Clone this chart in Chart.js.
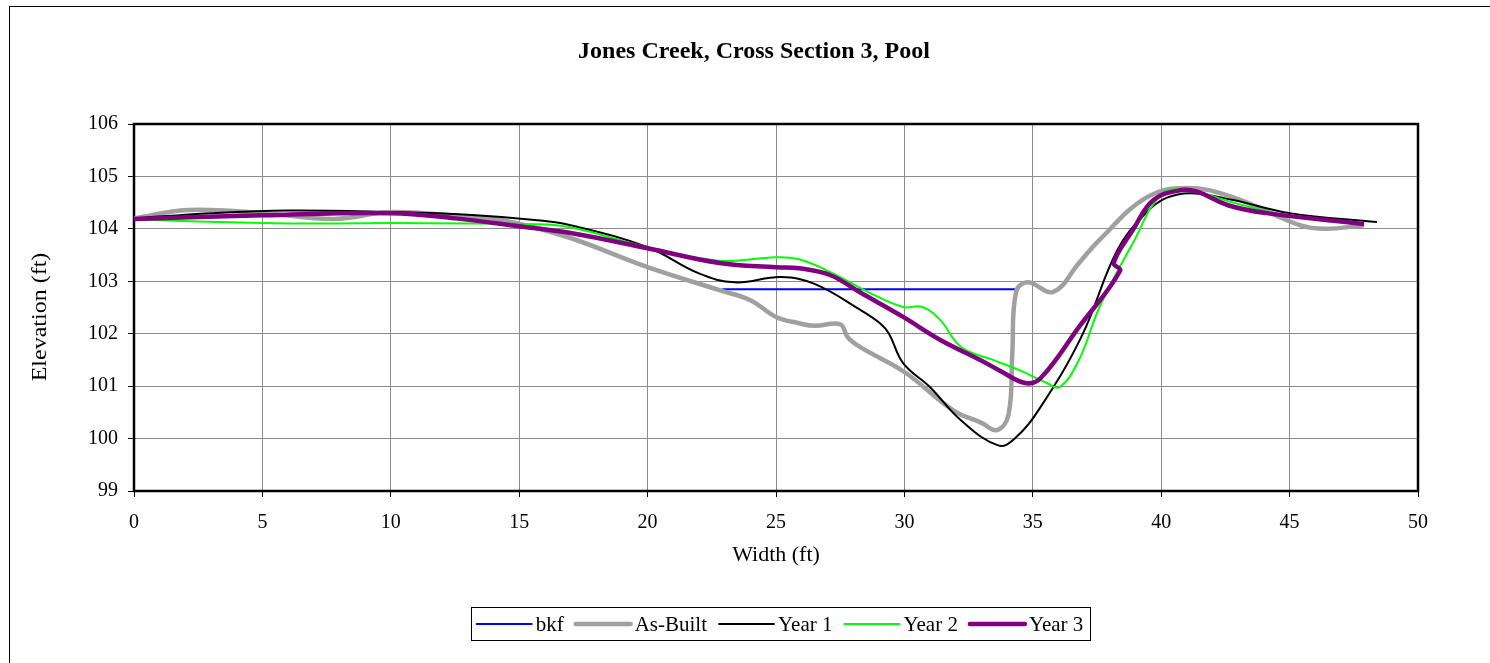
<!DOCTYPE html>
<html>
<head>
<meta charset="utf-8">
<title>Jones Creek, Cross Section 3, Pool</title>
<script src="https://cdn.jsdelivr.net/npm/chart.js@4/dist/chart.umd.min.js"></script>
<style>
  html, body { margin: 0; padding: 0; background: #fff; }
  #wrap { width: 1490px; height: 663px; }
</style>
</head>
<body>
<div id="wrap"><canvas id="xsChart" width="1490" height="663"></canvas></div>
<script>
// Survey data: station (ft) and elevation (ft)
var bkfX = [22.9, 34.4];
var bkfY = [102.85, 102.85];

var asBuiltX = [0, 2.1, 5, 7.8, 10, 12.5, 14.3, 16.9, 20, 22.8, 24, 25, 25.9, 26.5, 27.5, 27.8, 28.3, 30, 31.9, 33.0, 33.6, 34.05, 34.2, 34.35, 34.8, 35.8, 36.8, 37.6, 39.4, 41, 42.8, 45.4, 46.4, 47.9];
var asBuiltY = [104.2, 104.36, 104.3, 104.19, 104.32, 104.25, 104.17, 103.84, 103.27, 102.83, 102.64, 102.32, 102.2, 102.15, 102.18, 101.93, 101.74, 101.27, 100.54, 100.3, 100.16, 100.45, 101.6, 102.8, 102.98, 102.8, 103.35, 103.79, 104.59, 104.78, 104.6, 104.07, 104.0, 104.07];

var year1X = [0, 3, 6, 10, 13, 15.6, 17, 20, 22, 23.4, 25.2, 26.5, 28.3, 29.05, 29.4, 29.95, 31, 32.2, 33.65, 34.3, 35.3, 36.9, 38.3, 39.4, 40.2, 41.2, 42.8, 45, 48.4];
var year1Y = [104.2, 104.3, 104.35, 104.32, 104.27, 104.17, 104.07, 103.65, 103.15, 102.98, 103.08, 102.95, 102.45, 102.2, 102.0, 101.44, 100.98, 100.35, 99.87, 100.0, 100.6, 101.95, 103.6, 104.3, 104.59, 104.68, 104.55, 104.3, 104.13];

var year2X = [0, 5, 7.5, 10, 15.6, 17, 20, 22.8, 25, 25.9, 27.1, 28.65, 29.95, 30.7, 31.4, 32.2, 33.45, 34.5, 35.55, 36.05, 36.8, 37.6, 38.9, 40, 41, 42.8, 45, 47.9];
var year2Y = [104.18, 104.11, 104.1, 104.11, 104.09, 104.03, 103.65, 103.39, 103.46, 103.42, 103.18, 102.78, 102.51, 102.51, 102.26, 101.75, 101.5, 101.3, 101.06, 100.98, 101.5, 102.51, 103.73, 104.65, 104.75, 104.5, 104.25, 104.11];

var year3X = [0, 5, 10, 12.5, 15, 17, 20, 22.8, 25, 25.9, 27.1, 28.3, 29.95, 31.4, 32.95, 33.7, 34.7, 35.3, 36.8, 38.4, 38.15, 38.9, 39.7, 40.8, 41.4, 42.6, 44.1, 47.9];
var year3Y = [104.19, 104.26, 104.3, 104.2, 104.05, 103.92, 103.63, 103.35, 103.27, 103.25, 103.12, 102.78, 102.32, 101.88, 101.5, 101.3, 101.06, 101.15, 102.13, 103.2, 103.35, 103.98, 104.55, 104.74, 104.71, 104.45, 104.3, 104.09];

var xTicks = [0, 5, 10, 15, 20, 25, 30, 35, 40, 45, 50];
var yTicks = [99, 100, 101, 102, 103, 104, 105, 106];

var FONT = "'Liberation Serif', 'Times New Roman', serif";

function toPoints(xs, ys) {
  return xs.map(function (x, i) { return { x: x, y: ys[i] }; });
}

function series(label, xs, ys, color, width, order) {
  return {
    label: label,
    data: toPoints(xs, ys),
    borderColor: color,
    backgroundColor: color,
    borderWidth: width,
    showLine: true,
    pointRadius: 0,
    tension: 0.4,
    fill: false,
    order: order
  };
}

// frame, titles and boxed legend drawn straight onto the canvas
var decorations = {
  id: 'decorations',
  beforeDatasetsDraw: function (chart) {
    var ctx = chart.ctx, a = chart.chartArea;
    ctx.save();
    ctx.strokeStyle = '#000';
    ctx.lineWidth = 2.5;
    ctx.strokeRect(a.left, a.top, a.right - a.left, a.bottom - a.top);
    ctx.restore();
  },
  afterDraw: function (chart) {
    var ctx = chart.ctx, a = chart.chartArea;
    ctx.save();

    // outer frame
    ctx.strokeStyle = '#000';
    ctx.lineWidth = 1;
    ctx.strokeRect(9.5, 6.5, 1490, 670);

    ctx.fillStyle = '#000';
    ctx.textBaseline = 'middle';
    ctx.textAlign = 'center';
    ctx.font = 'bold 24px ' + FONT;
    ctx.fillText('Jones Creek, Cross Section 3, Pool', 754, 52);

    ctx.font = '22px ' + FONT;
    ctx.fillText('Width (ft)', (a.left + a.right) / 2, 555);

    ctx.save();
    ctx.translate(41, 317);
    ctx.rotate(-Math.PI / 2);
    ctx.scale(1.2, 1);
    ctx.font = '20px ' + FONT;
    ctx.fillText('Elevation (ft)', 0, 0);
    ctx.restore();

    // legend
    ctx.font = '21px ' + FONT;
    var sets = chart.data.datasets;
    var lineLen = 55, textGap = 4, itemGap = 12, pad = 6;
    var total = pad * 2 - itemGap;
    sets.forEach(function (d) {
      total += lineLen + textGap + ctx.measureText(d.label).width + itemGap;
    });
    var boxL = 780 - total / 2, boxT = 607, boxH = 33;
    ctx.lineWidth = 1;
    ctx.strokeStyle = '#000';
    ctx.strokeRect(Math.round(boxL) + 0.5, boxT + 0.5, Math.round(total), boxH);
    var cy = boxT + boxH / 2 + 0.5;
    var x = boxL + pad;
    ctx.textAlign = 'left';
    sets.forEach(function (d) {
      ctx.beginPath();
      ctx.strokeStyle = d.borderColor;
      ctx.lineWidth = d.borderWidth;
      ctx.lineCap = 'round';
      ctx.moveTo(x, cy);
      ctx.lineTo(x + lineLen, cy);
      ctx.stroke();
      x += lineLen + textGap;
      ctx.fillStyle = '#000';
      ctx.fillText(d.label, x, cy + 1);
      x += ctx.measureText(d.label).width + itemGap;
    });
    ctx.restore();
  }
};

var ctx = document.getElementById('xsChart').getContext('2d');

var myChart = new Chart(ctx, {
  type: 'scatter',
  data: {
    datasets: [
      series('bkf', bkfX, bkfY, '#0000ff', 2, 5),
      series('As-Built', asBuiltX, asBuiltY, '#a0a0a0', 4.5, 4),
      series('Year 1', year1X, year1Y, '#000000', 2, 3),
      series('Year 2', year2X, year2Y, '#00ff00', 2, 2),
      series('Year 3', year3X, year3Y, '#800080', 4.5, 1)
    ]
  },
  options: {
    responsive: false,
    animation: false,
    layout: { padding: { left: 0, top: 124, right: 72, bottom: 112 } },
    plugins: {
      legend: { display: false },
      title: { display: false },
      tooltip: { enabled: false }
    },
    scales: {
      x: {
        type: 'linear',
        min: 0,
        max: 50,
        afterBuildTicks: function (scale) {
          scale.ticks = xTicks.map(function (v) { return { value: v }; });
        },
        afterFit: function (scale) { scale.height = 60; },
        grid: { color: '#8c8c8c', lineWidth: 1, tickColor: '#000', tickLength: 6 },
        border: { display: false },
        ticks: { color: '#000', padding: 14, maxRotation: 0, font: { family: FONT, size: 20 } }
      },
      y: {
        type: 'linear',
        min: 99,
        max: 106,
        afterBuildTicks: function (scale) {
          scale.ticks = yTicks.map(function (v) { return { value: v }; });
        },
        afterFit: function (scale) { scale.width = 134; },
        grid: { color: '#8c8c8c', lineWidth: 1, tickColor: '#000', tickLength: 6 },
        border: { display: false },
        ticks: { color: '#000', padding: 10, font: { family: FONT, size: 20 } }
      }
    }
  },
  plugins: [decorations]
});
</script>
</body>
</html>
